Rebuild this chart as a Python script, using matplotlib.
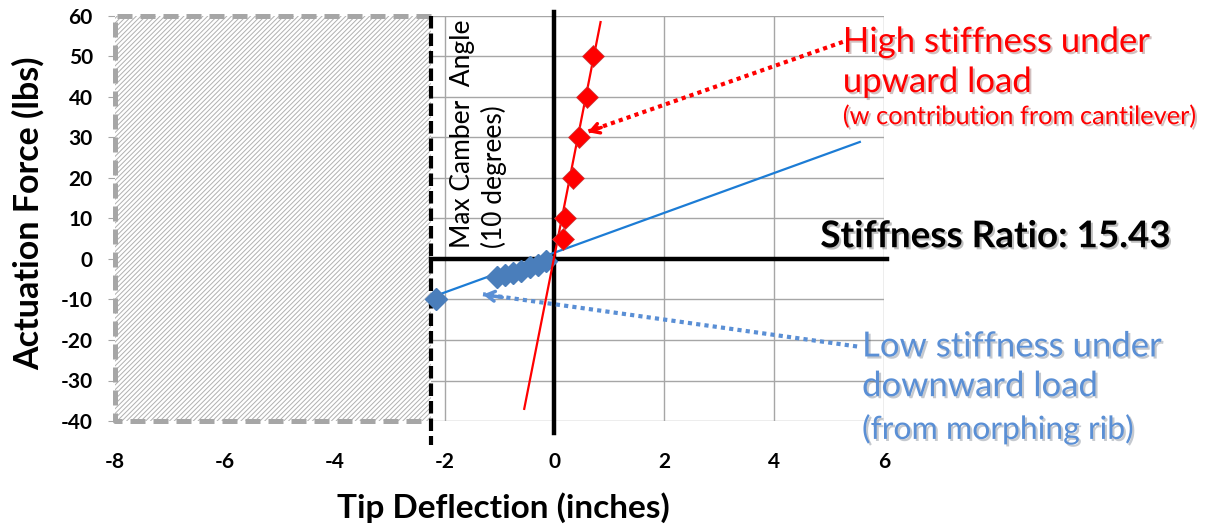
import numpy as np
import matplotlib
matplotlib.use('Agg')
import matplotlib.pyplot as plt
from matplotlib.patches import Rectangle
import matplotlib.patheffects as pe

plt.rcParams['font.family'] = ['Lato', 'DejaVu Sans']
plt.rcParams['axes.unicode_minus'] = False
plt.rcParams['hatch.linewidth'] = 0.7

# measured points, upward load (red) and downward load (blue)
up_x = [0.15, 0.2, 0.33, 0.45, 0.6, 0.71]
up_y = [5, 10, 20, 30, 40, 50]
up_fit_x = [-0.55, 0.84]
up_fit_y = [-37, 58.5]

down_x = [-2.15, -1.05, -0.9, -0.75, -0.6, -0.45, -0.3, -0.15]
down_y = [-10, -4.5, -4, -3.5, -3, -2, -1.5, -0.5]
down_fit_x = [-2.25, 5.56]
down_fit_y = [-9.5, 28.9]

camber_x = -2.25          # max camber limit
xlim = [-8, 6]
ylim = [-40, 60]
xticks = [-8, -6, -4, -2, 0, 2, 4, 6]
yticks = [-40, -30, -20, -10, 0, 10, 20, 30, 40, 50, 60]

red = '#ff0000'
blue_line = '#1c7cd5'
blue_mark = '#4a7ebb'
blue_text = '#5a8fd5'
grid_c = '#a6a6a6'

fig = plt.figure(figsize=(12.05, 5.27), dpi=100)
ax = fig.add_axes([115/1205, 1-421/527, 769/1205, 405/527])
ax.set_xlim(xlim)
ax.set_ylim(ylim)
ax.set_xticks(xticks)
ax.set_yticks(yticks)
ax.grid(True, color=grid_c, lw=1)
ax.set_axisbelow(True)
for s in ax.spines.values():
    s.set_visible(False)
ax.tick_params(axis='y', length=5, color=grid_c, pad=11, labelsize=15)
ax.tick_params(axis='x', length=0, pad=22, labelsize=15)
for lab in ax.get_xticklabels() + ax.get_yticklabels():
    lab.set_fontweight('bold')

# unreachable region
ax.add_patch(Rectangle((xlim[0], ylim[0]), camber_x - xlim[0], ylim[1] - ylim[0],
                       facecolor='white', edgecolor='#b0b0b0', lw=0, hatch='///////', zorder=1))
ax.plot([camber_x, xlim[0], xlim[0], camber_x], [ylim[1], ylim[1], ylim[0], ylim[0]],
        color=grid_c, lw=3.6, ls=(0, (3.0, 1.6)), clip_on=False, zorder=2)
ax.plot([camber_x, camber_x], [ylim[1], -46], color='black', lw=3, ls=(0, (3, 1.2)),
        clip_on=False, zorder=3)

# main axes through origin
ax.plot([0, 0], [61, -43], color='black', lw=3.2, clip_on=False, zorder=3)
ax.plot([camber_x, 6.05], [0, 0], color='black', lw=3.2, clip_on=False, zorder=3)

# data
ax.plot(down_fit_x, down_fit_y, color=blue_line, lw=1.6, zorder=4)
ax.plot(down_x, down_y, 'D', color=blue_mark, ms=11, mec=blue_mark, zorder=5, clip_on=False)
ax.plot(up_fit_x, up_fit_y, color=red, lw=1.6, zorder=6)
ax.plot(up_x, up_y, 'D', color=red, ms=11, mec='#c04040', mew=0.5, zorder=7)

ax.text(-1.38, 2.8, 'Max Camber  Angle\n(10 degrees)', rotation=90, ha='center', va='bottom',
        multialignment='left', fontsize=19, color='black', linespacing=1.3, zorder=8)

shadow = [pe.withSimplePatchShadow(offset=(1.5, -1.5), alpha=0.25)]

# red callout
ax.plot([5.25, 0.62], [53.6, 31.5], color=red, lw=3, ls=(0, (1, 1)), clip_on=False, zorder=8)
ax.annotate('', xy=(0.56, 31.1), xytext=(0.9, 32.7),
            arrowprops=dict(arrowstyle='->,head_length=0.6,head_width=0.35', color=red, lw=2.5),
            zorder=8)
ax.text(5.25, 53.6, 'High stiffness under', color=red, fontsize=25, va='center', ha='left',
        path_effects=shadow)
ax.text(5.25, 43.7, 'upward load', color=red, fontsize=25, va='center', ha='left',
        path_effects=shadow)
ax.text(5.25, 35.2, '(w contribution from cantilever)', color=red, fontsize=18.3, va='center',
        ha='left', path_effects=shadow)

ax.text(4.84, 5.5, 'Stiffness Ratio: 15.43', color='black', fontsize=26.5, fontweight='bold',
        va='center', ha='left', path_effects=shadow)

# blue callout
ax.plot([5.51, -1.3], [-21.6, -8.7], color=blue_text, lw=3, ls=(0, (1, 1)), clip_on=False, zorder=8)
ax.annotate('', xy=(-1.35, -8.7), xytext=(-0.9, -9.55),
            arrowprops=dict(arrowstyle='->,head_length=0.6,head_width=0.35', color=blue_text, lw=2.5),
            zorder=8)
ax.text(5.6, -21.6, 'Low stiffness under', color=blue_text, fontsize=25, va='center', ha='left',
        path_effects=shadow)
ax.text(5.6, -31.4, 'downward load', color=blue_text, fontsize=25, va='center', ha='left',
        path_effects=shadow)
ax.text(5.6, -42, '(from morphing rib)', color=blue_text, fontsize=23, va='center', ha='left',
        path_effects=shadow)

fig.text(28/1205, 1-213/527, 'Actuation Force (lbs)', rotation=90, ha='center', va='center',
         fontsize=24.5, fontweight='bold')
fig.text(503/1205, 1-508/527, 'Tip Deflection (inches)', ha='center', va='center',
         fontsize=24, fontweight='bold')

fig.savefig('out.png', dpi=100)
